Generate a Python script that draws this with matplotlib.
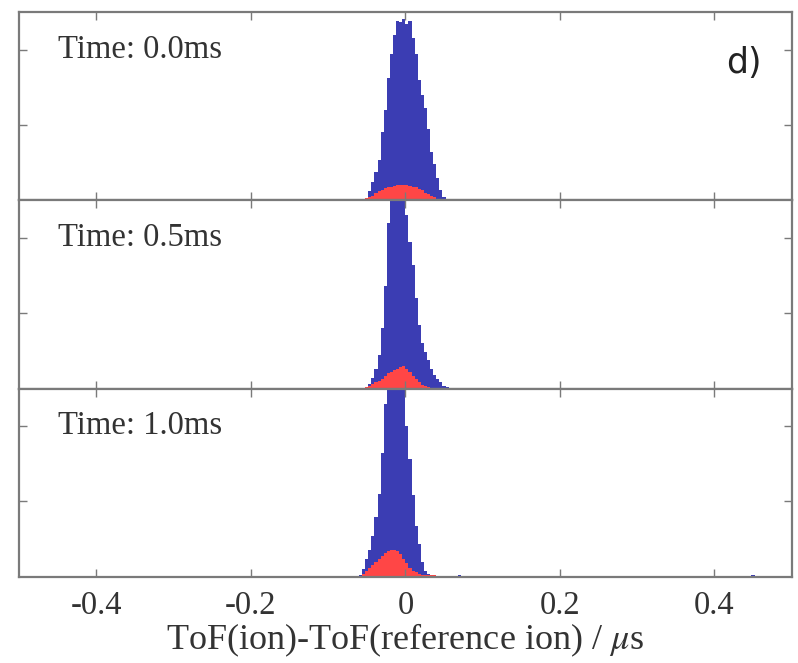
import numpy as np
import matplotlib.pyplot as plt

# ToF difference bin centres (us), bin width 0.004
bin_centres = [-0.058, -0.054, -0.050, -0.046, -0.042, -0.038, -0.034, -0.030,
               -0.026, -0.022, -0.018, -0.014, -0.010, -0.006, -0.002, 0.002,
               0.006, 0.010, 0.014, 0.018, 0.022, 0.026, 0.030, 0.034,
               0.038, 0.042, 0.046, 0.050, 0.054, 0.058]
bin_width = 0.004

# t = 0.0 ms
blue_00 = [0.0, 0.0, 0.01, 0.06, 0.12, 0.19, 0.27, 0.45, 0.60, 0.81, 0.97, 1.10,
           1.19, 1.18, 1.20, 1.17, 1.19, 1.08, 0.97, 0.80, 0.70, 0.61, 0.47, 0.32,
           0.24, 0.15, 0.07, 0.02, 0.01, 0.0]
red_00 = [0.005, 0.01, 0.015, 0.02, 0.03, 0.045, 0.06, 0.07, 0.08, 0.085, 0.09, 0.095,
          0.10, 0.10, 0.10, 0.10, 0.095, 0.09, 0.085, 0.075, 0.065, 0.05, 0.04, 0.03,
          0.02, 0.01, 0.005, 0.0, 0.0, 0.0]

# t = 0.5 ms
blue_05 = [0.0, 0.0, 0.01, 0.03, 0.07, 0.13, 0.22, 0.40, 0.68, 1.10, 1.50, 1.60,
           1.55, 1.50, 1.40, 1.15, 0.97, 0.82, 0.60, 0.42, 0.30, 0.24, 0.19, 0.13,
           0.09, 0.06, 0.04, 0.02, 0.01, 0.005]
red_05 = [0.0, 0.005, 0.01, 0.02, 0.03, 0.04, 0.05, 0.065, 0.08, 0.10, 0.11, 0.12,
          0.13, 0.14, 0.15, 0.13, 0.11, 0.08, 0.06, 0.04, 0.025, 0.015, 0.01, 0.005,
          0.0, 0.0, 0.0, 0.0, 0.0, 0.0]

# t = 1.0 ms
blue_10 = [0.01, 0.05, 0.12, 0.18, 0.27, 0.40, 0.55, 0.82, 1.15, 1.45, 1.60, 1.70,
           1.65, 1.60, 1.45, 1.00, 0.78, 0.54, 0.34, 0.22, 0.10, 0.04, 0.02, 0.01,
           0.01, 0.005, 0.005, 0.005, 0.0, 0.0]
red_10 = [0.005, 0.02, 0.04, 0.06, 0.08, 0.10, 0.12, 0.14, 0.16, 0.17, 0.18, 0.18,
          0.17, 0.15, 0.12, 0.09, 0.06, 0.04, 0.03, 0.02, 0.015, 0.012, 0.01, 0.01,
          0.009, 0.008, 0.008, 0.007, 0.006, 0.005]

# sparse counts far in the tail (bottom panel)
tail_x = [0.07, 0.12, 0.20, 0.23, 0.28, 0.33, 0.42, 0.45]
tail_y = [0.01, 0.006, 0.008, 0.006, 0.006, 0.005, 0.008, 0.01]

panels = [("Time: 0.0ms", blue_00, red_00),
          ("Time: 0.5ms", blue_05, red_05),
          ("Time: 1.0ms", blue_10, red_10)]

BLUE = "#3b3db3"
RED = "#ff4646"
FRAME = "#7a7a7a"
serif = ["Liberation Serif", "DejaVu Serif"]
plt.rcParams["mathtext.fontset"] = "stix"

fig, axes = plt.subplots(3, 1, sharex=True, figsize=(7.98, 6.63), dpi=100)
fig.subplots_adjust(left=0.024, right=0.992, bottom=0.13, top=0.982, hspace=0)

for i, (ax, (label, blue, red)) in enumerate(zip(axes, panels)):
    ax.bar(bin_centres, blue, width=bin_width, color=BLUE, linewidth=0)
    ax.bar(bin_centres, red, width=bin_width, color=RED, linewidth=0)
    if i == 2:
        ax.bar(tail_x, tail_y, width=bin_width, color=BLUE, linewidth=0)
    ax.set_xlim(-0.5, 0.5)
    ax.set_ylim(0, 1.25)
    ax.set_yticks([0.5, 1.0])
    ax.set_yticklabels([])
    ax.set_xticks([-0.4, -0.2, 0, 0.2, 0.4])
    ax.tick_params(direction="in", length=6, width=1, color=FRAME,
                   top=True, right=True)
    for s in ax.spines.values():
        s.set_color(FRAME)
        s.set_linewidth(1.6)
    ax.text(0.05, 0.8, label, transform=ax.transAxes, family=serif,
            fontsize=23.5, color="#333333", va="center")

axes[0].text(0.938, 0.73, "d)", transform=axes[0].transAxes, fontsize=25,
             family="DejaVu Sans", color="#222222", ha="center", va="center")

axes[2].set_xticklabels(["-0.4", "-0.2", "0", "0.2", "0.4"], family=serif,
                        fontsize=23.5, color="#333333")
axes[2].tick_params(axis="x", pad=10)
axes[2].set_xlabel(r"ToF(ion)-ToF(reference ion) / $\mu$s", family=serif,
                   fontsize=26, color="#333333", labelpad=0)

fig.savefig("out.png")
